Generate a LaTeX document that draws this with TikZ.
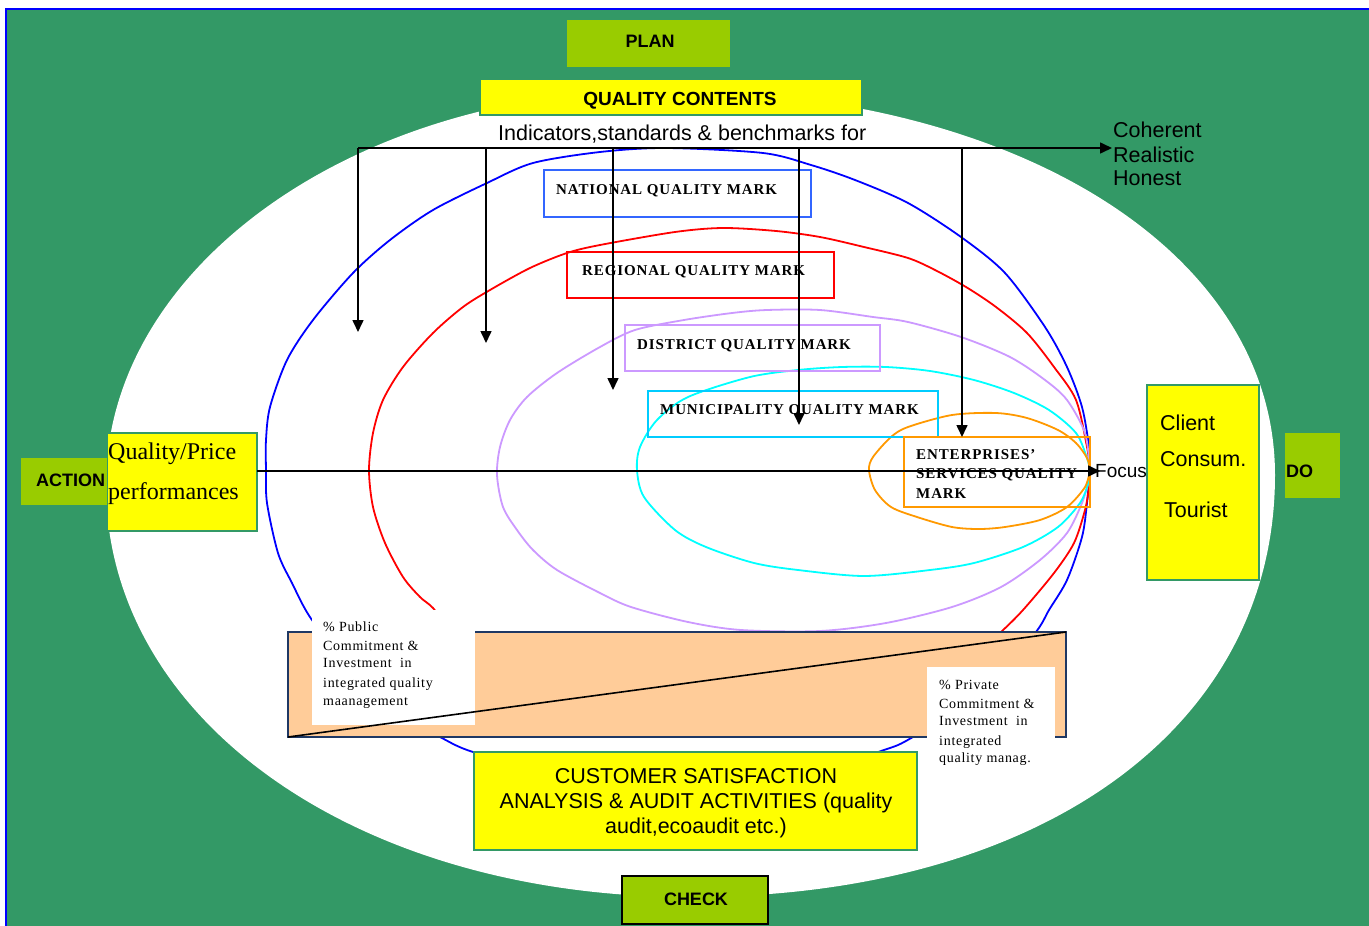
\documentclass[tikz,border=0pt]{standalone}
\usepackage{fontspec}
\setmainfont{Liberation Serif}
\setsansfont{Liberation Sans}
\newfontfamily\markfont[LetterSpace=6]{Liberation Serif}
\newfontfamily\notefont[LetterSpace=5]{Liberation Serif}
\usetikzlibrary{arrows.meta}
\definecolor{bggreen}{RGB}{51,153,102}
\definecolor{lime}{RGB}{153,204,0}
\definecolor{yel}{RGB}{255,255,0}
\definecolor{peach}{RGB}{255,204,153}
\definecolor{navy}{RGB}{31,56,100}
\definecolor{natblue}{RGB}{51,102,255}
\definecolor{lilac}{RGB}{204,153,255}
\definecolor{muncyan}{RGB}{0,204,255}
\definecolor{orng}{RGB}{255,153,0}
\definecolor{cyanc}{RGB}{0,255,255}
\begin{document}
\begin{tikzpicture}[x=1pt,y=-1pt,
  box/.style={anchor=north west, inner sep=0pt, outer sep=0pt},
  phase/.style={box, fill=lime},
  phasetext/.style={font=\sffamily\bfseries\fontsize{18}{20}\selectfont, inner sep=0pt},
  yelbox/.style={box, fill=yel, draw=bggreen, line width=1.5pt},
  markbox/.style={box, line width=1.8pt},
  marktext/.style={font=\markfont\bfseries\fontsize{15}{19.7}\selectfont, anchor=base west, inner sep=0pt},
  curve/.style={line width=1.8pt},
  arr/.style={line width=1.6pt, -{Triangle[length=12pt,width=11pt]}},
  sans/.style={font=\sffamily\fontsize{21.5}{24.5}\selectfont, inner sep=0pt},
  serif/.style={font=\rmfamily\fontsize{24}{40}\selectfont, inner sep=0pt, anchor=base west},
  note/.style={font=\notefont\fontsize{14}{18.5}\selectfont, anchor=base west, inner sep=0pt},
]
\useasboundingbox (0,0) rectangle (1369,926);
\fill[white] (0,0) rectangle (1369,926);
% green background
\fill[bggreen] (6,9) rectangle (1369,926);
\draw[blue, line width=1.5pt] (6,926) -- (6,9) -- (1369,9);
% white oval
\fill[white] (106,485) .. controls (106,267) and (355,90) .. (660,90)
  .. controls (1017,90) and (1275,252) .. (1275,475)
  .. controls (1275,728) and (1041,897) .. (690,897)
  .. controls (357,897) and (106,720) .. cycle;
% nested curves
\draw[curve, blue] plot[smooth, tension=0.5] coordinates {
 (1090,470) (1089,447) (1082,407) (1067,367) (1045,327) (1005,273) (961,237)
 (908,203) (855,180) (811,165) (763,153) (666,148) (600,152) (533,163) (487,183)
 (433,210) (390,240) (353,273) (313,320) (287,360) (270,407) (266,440) (266,470)
 (267,503) (278,553) (292,583) (312,620) (360,680) (400,715) (440,737) (473,752)
 (560,775) (680,785) (800,775) (884,750) (913,737) (990,690) (1036,632)
 (1049,610) (1067,580) (1082,537) (1087,503) (1090,470)};
\draw[curve, red] plot[smooth, tension=0.5] coordinates {
 (1090,470) (1087,447) (1076,400) (1054,367) (1027,333) (996,307) (966,287)
 (935,270) (908,258) (864,247) (820,237) (776,231) (723,228) (675,232) (600,245)
 (567,253) (530,268) (490,290) (463,307) (433,333) (403,367) (383,400) (373,433)
 (369,470) (373,507) (385,543) (403,577) (420,597) (433,608) (462,640) (560,680)
 (750,690) (900,675) (975,655) (1001,632) (1023,610) (1054,573) (1074,543)
 (1085,510) (1089,487) (1090,470)};
\draw[curve, lilac] plot[smooth, tension=0.5] coordinates {
 (1090,470) (1085,433) (1067,400) (1045,380) (1010,357) (961,337) (908,322)
 (873,317) (820,310) (767,310) (732,313) (684,320) (635,330) (600,347) (557,373)
 (527,397) (510,420) (500,447) (497,475) (503,507) (517,530) (533,550) (557,570)
 (600,593) (631,607) (688,622) (741,630) (820,631) (886,623) (952,607) (1001,587)
 (1040,560) (1067,533) (1082,503) (1089,480) (1090,470)};
\draw[curve, cyanc] plot[smooth, tension=0.5] coordinates {
 (1090,470) (1087,458) (1076,433) (1049,410) (1014,393) (974,380) (930,371)
 (886,367) (842,367) (798,370) (750,377) (688,397) (657,420) (640,447) (637,470)
 (644,497) (675,530) (706,547) (754,563) (798,570) (864,576) (930,570) (974,563)
 (1023,547) (1058,527) (1080,503) (1088,484) (1090,470)};
\draw[curve, orng] plot[smooth, tension=0.5] coordinates {
 (1090,470) (1087,458) (1076,443) (1058,430) (1027,418) (996,413) (952,415)
 (908,427) (891,437) (873,457) (869,470) (875,490) (891,507) (917,517) (952,527)
 (979,529) (1005,527) (1040,520) (1067,507) (1085,487) (1090,470)};
% quality mark boxes
\node[markbox, draw=natblue, minimum width=267pt, minimum height=47pt] (nat) at (544,170) {};
\node[markbox, draw=red, minimum width=267pt, minimum height=46pt] (reg) at (567,252) {};
\node[markbox, draw=lilac, minimum width=255pt, minimum height=46pt] (dis) at (625,325) {};
\node[markbox, draw=muncyan, minimum width=290pt, minimum height=46pt] (mun) at (648,391) {};
\node[markbox, draw=orng, minimum width=186pt, minimum height=70pt] (ent) at (904,437) {};
\node[marktext] (tnat) at (556,194) {NATIONAL QUALITY MARK};
\node[marktext] (treg) at (582,275) {REGIONAL QUALITY MARK};
\node[marktext] (tdis) at (637,349) {DISTRICT QUALITY MARK};
\node[marktext] (tmun) at (660,414) {MUNICIPALITY QUALITY MARK};
\node[marktext] (tent1) at (916,459) {ENTERPRISES’};
\node[marktext] (tent2) at (916,478) {SERVICES QUALITY};
\node[marktext] (tent3) at (916,498) {MARK};
% top arrows
\coordinate (h0) at (358,148);
\coordinate (hend) at (1112,148);
\coordinate (v2s) at (486,148); \coordinate (v2e) at (486,343);
\coordinate (v3s) at (613,148); \coordinate (v3e) at (613,390);
\coordinate (v4s) at (799,148); \coordinate (v4e) at (799,425);
\coordinate (v5s) at (962,148); \coordinate (v5e) at (962,437);
\coordinate (v1e) at (358,332);
\draw[arr] (h0) -- (hend);
\draw[arr] (h0) -- (v1e);
\draw[arr] (v2s) -- (v2e);
\draw[arr] (v3s) -- (v3e);
\draw[arr] (v4s) -- (v4e);
\draw[arr] (v5s) -- (v5e);
\node[sans, anchor=base west] (ind) at (498,140) {Indicators,standards \& benchmarks for};
\node[sans, anchor=base west] (coh) at (1113,137) {Coherent};
\node[sans, anchor=base west] (rea) at (1113,162) {Realistic};
\node[sans, anchor=base west] (hon) at (1113,185) {Honest};
% main horizontal line
\node[yelbox, minimum width=150pt, minimum height=98pt] (qp) at (107,433) {};
\coordinate (qpr) at (257,471);
\coordinate (focus) at (1100,471);
\draw[arr] (qpr) -- (focus);
\node[font=\sffamily\fontsize{19}{20}\selectfont, inner sep=0pt, anchor=base west] (foc) at (1095,477) {Focus};
\node[serif] (qp1) at (108,459) {Quality/Price};
\node[serif] (qp2) at (108,499) {performances};
% peach box
\node[box, fill=peach, draw=navy, line width=1.5pt, minimum width=778pt, minimum height=105pt] (pb) at (288,632) {};
\node[box, fill=white, minimum width=163pt, minimum height=115pt] (pub) at (312,610) {};
\node[box, fill=white, minimum width=128pt, minimum height=103pt] (pri) at (927,667) {};
\draw[line width=1.6pt] (pb.south west) -- (pb.north east);
\node[note] (pu1) at (323,631) {\% Public};
\node[note] (pu2) at (323,650) {Commitment \&};
\node[note] (pu3) at (323,667) {Investment\ \ in};
\node[note] (pu4) at (323,687) {integrated quality};
\node[note] (pu5) at (323,705) {maanagement};
\node[note] (pr1) at (939,689) {\% Private};
\node[note] (pr2) at (939,708) {Commitment \&};
\node[note] (pr3) at (939,725) {Investment\ \ in};
\node[note] (pr4) at (939,745) {integrated};
\node[note] (pr5) at (939,762) {quality manag.};
% customer satisfaction
\node[yelbox, minimum width=443pt, minimum height=98pt] (cs) at (474,752) {};
\node[sans, anchor=base] (cs1) at (696,783) {CUSTOMER SATISFACTION};
\node[sans, anchor=base] (cs2) at (696,808) {ANALYSIS \& AUDIT ACTIVITIES (quality};
\node[sans, anchor=base] (cs3) at (696,833) {audit,ecoaudit etc.)};
% client box
\node[yelbox, minimum width=112pt, minimum height=195pt] (cl) at (1147,385) {};
\node[sans, anchor=base west] (cl1) at (1160,430) {Client};
\node[sans, anchor=base west] (cl2) at (1160,466) {Consum.};
\node[sans, anchor=base west] (cl3) at (1164,517) {Tourist};
% quality contents
\node[yelbox, minimum width=382pt, minimum height=36pt] (qc) at (480,79) {};
\node[phasetext, font=\sffamily\bfseries\fontsize{19}{20}\selectfont, anchor=base] (qct) at (680,105) {QUALITY CONTENTS};
% phase boxes
\node[phase, minimum width=163pt, minimum height=47pt] (plan) at (567,20) {};
\node[phasetext, anchor=base] (plant) at (650,47) {PLAN};
\node[phase, minimum width=86pt, minimum height=47pt] (act) at (21,458) {};
\node[phasetext, anchor=base west] (actt) at (36,486) {ACTION};
\node[phase, minimum width=55pt, minimum height=65pt] (do) at (1285,433) {};
\node[phasetext, anchor=base west] (dot) at (1286,477) {DO};
\node[phase, draw=black, line width=1.8pt, minimum width=146pt, minimum height=48pt] (chk) at (622,876) {};
\node[phasetext, anchor=base] (chkt) at (696,905) {CHECK};
\end{tikzpicture}
\end{document}
